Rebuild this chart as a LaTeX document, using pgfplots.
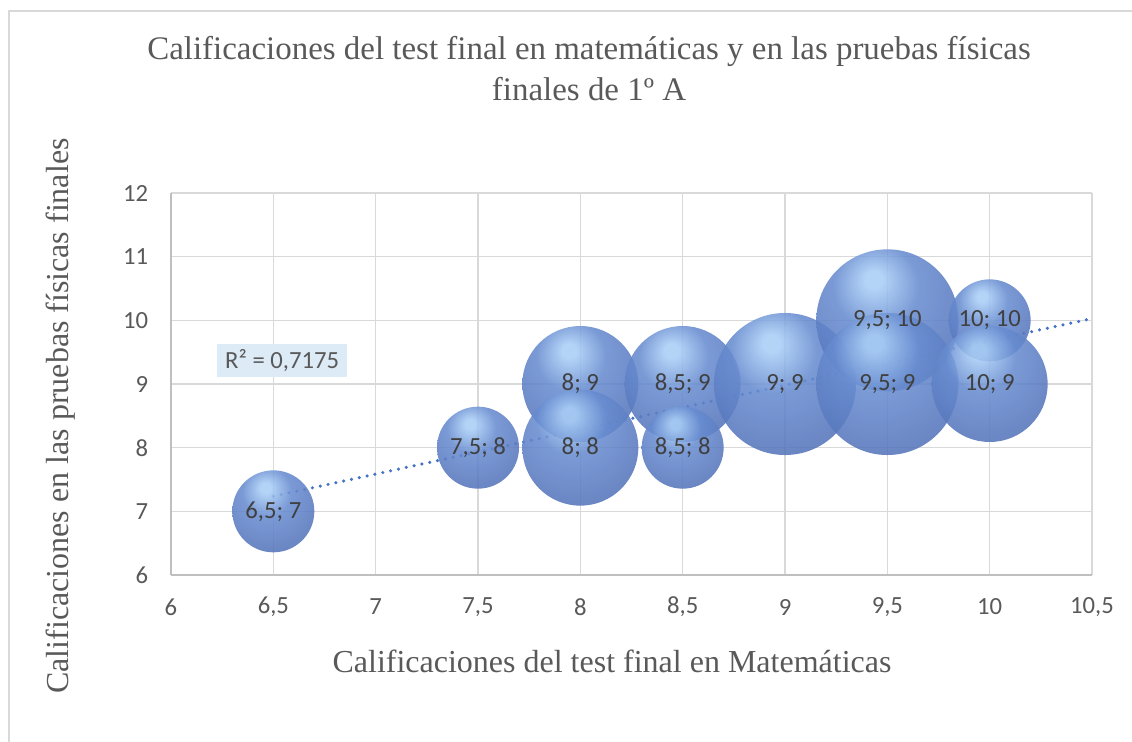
\documentclass[border=0pt]{standalone}
\usepackage{pgfplots}
\pgfplotsset{compat=1.18}
\usepackage{pgfplotstable}
\usepackage{fontspec}
\setmainfont{Liberation Serif}
\newfontfamily\calfont{Carlito}

\definecolor{titlegray}{HTML}{595959}
\definecolor{labgray}{HTML}{404040}
\definecolor{gridgray}{HTML}{D9D9D9}
\definecolor{axisgray}{HTML}{BFBFBF}
\definecolor{trendblue}{HTML}{4472C4}
\definecolor{r2fill}{HTML}{DDEBF7}
\definecolor{bhl}{HTML}{A9CEF6}
\definecolor{bmid}{HTML}{688CD0}
\definecolor{bbase}{HTML}{5271B7}
\definecolor{bedge}{HTML}{344F8A}

\pgfdeclareradialshading{bubbleshade}{\pgfpoint{-5bp}{15bp}}{%
  color(0bp)=(bhl); color(3bp)=(bhl); color(15bp)=(bmid);
  color(36bp)=(bbase); color(57bp)=(bedge); color(72bp)=(bedge)}

\pgfdeclareplotmark{bubble}{%
  \pgfsetfillopacity{0.88}%
  \pgfpathcircle{\pgfpointorigin}{\pgfplotmarksize}%
  \pgfshadepath{bubbleshade}{0}%
  \pgfusepath{discard}%
}

\pgfplotstableread{
x    y   s
6.5  7   1
7.5  8   1
8    9   2
8    8   2
8.5  9   2
8.5  8   1
9    9   3
9.5  10  3
9.5  9   3
10   10  1
10   9   2
}\bubbles

\begin{document}
\begin{tikzpicture}
\path[use as bounding box] (0,0) rectangle (849pt,-556.5pt);
% outer chart border (partly visible)
\draw[gridgray, line width=1.5pt] (6.4pt,-556.5pt) -- (6.4pt,-8.2pt) -- (849pt,-8.2pt);

\begin{axis}[
  at={(128.25pt,-431.25pt)}, anchor=south west,
  scale only axis, width=690.75pt, height=286.5pt,
  xmin=6, xmax=10.5, ymin=6, ymax=12,
  xtick={6,6.5,...,10.5}, ytick={6,7,...,12},
  /pgf/number format/use comma,
  /pgf/number format/assume math mode=true,
  ticklabel style={font=\calfont\fontsize{18.5}{22}\selectfont, text=titlegray},
  xticklabel style={anchor=center, yshift=-24pt},
  yticklabel style={anchor=east, inner sep=0pt, xshift=-17pt},
  major tick length=0pt,
  grid=major,
  major grid style={draw=gridgray, line width=1pt},
  axis x line*=bottom, axis y line*=left,
  axis line style={draw=axisgray, line width=1.3pt, -},
  clip=false,
]
\addplot[scatter, only marks, mark=bubble,
  scatter/use mapped color={},
  point meta=\thisrow{s},
  visualization depends on={30.75*sqrt(\thisrow{s}) \as \rad},
  scatter/@pre marker code/.append style={/tikz/mark size=\rad}]
  table[x=x, y=y] {\bubbles};

\addplot[trendblue, line width=2.6pt, line cap=round, dash pattern=on 0pt off 6pt]
  coordinates {(6.5,7.236) (10.5,10.028)};

\addplot[draw=none, mark=none,
  visualization depends on={\thisrow{x} \as \xv},
  visualization depends on={\thisrow{y} \as \yv},
  nodes near coords={\pgfmathprintnumber{\xv}; \pgfmathprintnumber{\yv}},
  every node near coord/.append style={anchor=center, font=\calfont\fontsize{18.5}{22}\selectfont, text=labgray}]
  table[x=x, y=y] {\bubbles};

\node[fill=r2fill, text=titlegray, font=\calfont\fontsize{18.5}{22}\selectfont,
      inner xsep=6pt, minimum height=25pt] at (axis cs:6.543,9.367) {R² = 0,7175};
\end{axis}

% title
\node[anchor=base, text=titlegray, font=\fontsize{24.7}{29}\selectfont] at (441.75pt,-45pt)
  {Calificaciones del test final en matemáticas y en las pruebas físicas};
\node[anchor=base, text=titlegray, font=\fontsize{24.7}{29}\selectfont] at (441.75pt,-75pt)
  {finales de 1º A};
% x label
\node[anchor=base, text=titlegray, font=\fontsize{24}{29}\selectfont] at (459pt,-504pt)
  {Calificaciones del test final en Matemáticas};
% y label
\node[anchor=base, rotate=90, text=titlegray, font=\fontsize{24}{29}\selectfont] at (51pt,-312pt)
  {Calificaciones en las pruebas físicas finales};
\end{tikzpicture}
\end{document}
